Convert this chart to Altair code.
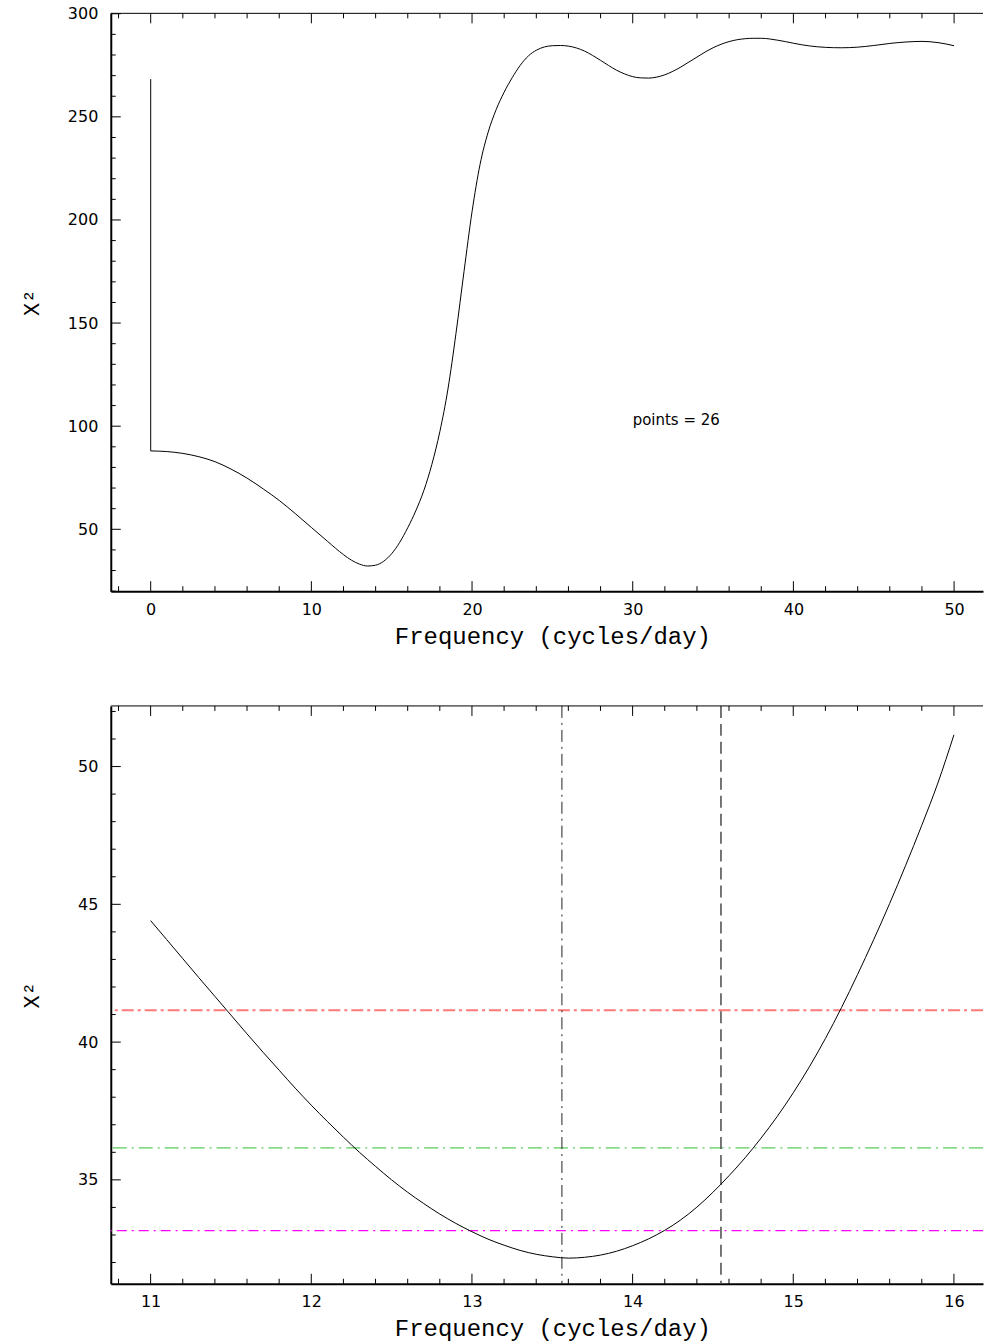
import altair as alt
import pandas as pd

# ---------------- data ----------------
# top panel: chi^2 versus trial frequency (full scan)
top_freq = [0, 1, 2, 3, 4, 5, 6, 7, 8, 9, 10, 11, 12, 12.5, 13, 13.5, 14, 14.5, 15,
            15.5, 16, 16.5, 17, 17.5, 18, 18.5, 19, 19.5, 20, 20.5, 21, 21.5, 22,
            22.5, 23, 23.5, 24, 24.5, 25, 25.5, 26, 26.5, 27, 27.5, 28, 28.5, 29,
            29.5, 30, 30.5, 31, 31.5, 32, 32.5, 33, 33.5, 34, 34.5, 35, 35.5, 36,
            36.5, 37, 37.5, 38, 38.5, 39, 39.5, 40, 41, 42, 43, 44, 45, 46, 47, 48,
            49, 50]
top_chi2 = [88.0, 87.7, 86.8, 85.2, 82.8, 79.2, 74.8, 69.6, 64.0, 57.6, 50.9, 44.2,
            37.7, 35.0, 33.1, 32.2, 32.6, 34.5, 38.2, 43.7, 50.8, 59.0, 68.8, 81.5,
            97.5, 118.0, 145.0, 175.0, 204.0, 227.0, 242.5, 253.5, 262.0, 269.0,
            275.0, 279.5, 282.3, 283.9, 284.5, 284.6, 284.3, 283.4, 281.9, 279.8,
            277.4, 274.9, 272.6, 270.8, 269.5, 268.9, 268.8, 269.3, 270.4, 272.1,
            274.2, 276.6, 279.0, 281.4, 283.5, 285.2, 286.5, 287.4, 287.9, 288.1,
            288.1, 287.8, 287.2, 286.5, 285.7, 284.4, 283.7, 283.5, 283.8, 284.6,
            285.6, 286.3, 286.6, 286.0, 284.5]
spike_freq = [0]
spike_top = [268.3]
spike_bottom = [88.0]
annot_text = ["points = 26"]
annot_freq = [30]
annot_chi2 = [103]

# bottom panel: zoom around the minimum
zoom_freq = [11.0, 11.1, 11.2, 11.3, 11.4, 11.5, 11.6, 11.7, 11.8, 11.9, 12.0, 12.1,
             12.2, 12.3, 12.4, 12.5, 12.6, 12.7, 12.8, 12.9, 13.0, 13.1, 13.2, 13.3,
             13.4, 13.5, 13.6, 13.7, 13.8, 13.9, 14.0, 14.1, 14.2, 14.3, 14.4, 14.5,
             14.6, 14.7, 14.8, 14.9, 15.0, 15.1, 15.2, 15.3, 15.4, 15.5, 15.6, 15.7,
             15.8, 15.9, 16.0]
zoom_chi2 = [44.41, 43.72, 43.03, 42.34, 41.66, 40.98, 40.30, 39.63, 38.98, 38.33,
             37.71, 37.12, 36.55, 36.00, 35.49, 35.00, 34.55, 34.14, 33.76, 33.42,
             33.12, 32.85, 32.63, 32.44, 32.30, 32.21, 32.16, 32.19, 32.27, 32.41,
             32.61, 32.86, 33.17, 33.55, 34.01, 34.55, 35.15, 35.80, 36.52, 37.30,
             38.16, 39.10, 40.13, 41.25, 42.45, 43.71, 45.03, 46.42, 47.87, 49.40,
             51.15]
level_chi2 = [41.16, 36.16, 33.16]          # chi2_min + 9, + 4, + 1
level_color = ["#ff7a7a", "#2fbf2f", "#ff00ff"]
level_dash = [[12, 4, 3, 4], [14, 5, 2, 5], [10, 5, 2, 5]]
level_width = [2.0, 1.0, 1.2]
mark_freq = [13.56, 14.55]
mark_color = ["#222222", "#555555"]
mark_dash = [[12, 5, 2, 5], [12, 6]]
mark_width = [1.0, 1.6]

# axis ticks / labels
top_x_major = [0, 10, 20, 30, 40, 50]
top_x_minor = [-2, 2, 4, 6, 8, 12, 14, 16, 18, 22, 24, 26, 28, 32, 34, 36, 38,
               42, 44, 46, 48]
top_y_major = [50, 100, 150, 200, 250, 300]
top_y_minor = [20, 30, 40, 60, 70, 80, 90, 110, 120, 130, 140, 160, 170, 180, 190,
               210, 220, 230, 240, 260, 270, 280, 290]
zoom_x_major = [11, 12, 13, 14, 15, 16]
zoom_x_minor = [10.8, 11.2, 11.4, 11.6, 11.8, 12.2, 12.4, 12.6, 12.8, 13.2, 13.4,
                13.6, 13.8, 14.2, 14.4, 14.6, 14.8, 15.2, 15.4, 15.6, 15.8]
zoom_y_major = [35, 40, 45, 50]
zoom_y_minor = [32, 33, 34, 36, 37, 38, 39, 41, 42, 43, 44, 46, 47, 48, 49, 51, 52]

top_xdom = [-2.484, 51.80]
top_ydom = [20, 300.2]
zoom_xdom = [10.752, 16.181]
zoom_ydom = [31.23, 52.2]

XTITLE = "Frequency (cycles/day)"
YTITLE = "X²"

W = 874
H = 579
MAJ = 10
MIN = 5
LABEL_FONT = "DejaVu Sans"


def make_axes(xvals, yvals):
    xa = alt.Axis(values=xvals, format="d", ticks=False, grid=False, domain=True,
                  domainColor="black", domainWidth=2, labelFlush=False,
                  labelFont=LABEL_FONT, labelFontSize=16, labelColor="black",
                  labelPadding=10, titleFont="Liberation Mono", titleFontSize=24,
                  titleFontWeight="normal", titleColor="black", titleX=442.5,
                  titleY=45, titleBaseline="middle", titleAlign="center")
    ya = alt.Axis(values=yvals, format="d", ticks=False, grid=False, domain=True,
                  domainColor="black", domainWidth=2,
                  labelFont=LABEL_FONT, labelFontSize=16, labelColor="black",
                  labelPadding=13, titleFont="Liberation Mono", titleFontSize=22,
                  titleFontWeight="normal", titleColor="black", titleX=-79,
                  titleY=H / 2, titleAngle=270, titleBaseline="middle",
                  titleAlign="center")
    return xa, ya


def panel(curve_df, xdom, ydom, xmaj, xmin, ymaj, ymin, extra):
    xs = alt.Scale(domain=xdom, nice=False, zero=False)
    ys = alt.Scale(domain=ydom, nice=False, zero=False)
    xa, ya = make_axes(xmaj, ymaj)

    def X():
        return alt.X("f:Q", scale=xs, axis=xa, title=XTITLE)

    def Y():
        return alt.Y("c:Q", scale=ys, axis=ya, title=YTITLE)

    layers = []
    for build in extra:
        layers.append(build(X, Y))

    curve = alt.Chart(curve_df).mark_line(color="black", strokeWidth=1,
                                          interpolate="monotone", clip=True).encode(
        x=X(), y=Y())
    layers.append(curve)

    for vals, length in ((xmaj, MAJ), (xmin, MIN)):
        d = pd.DataFrame({"f": vals})
        layers.append(alt.Chart(d).mark_rule(color="black", strokeWidth=1).encode(
            x=X(), y=alt.value(H), y2=alt.value(H - length)))
        layers.append(alt.Chart(d).mark_rule(color="black", strokeWidth=1).encode(
            x=X(), y=alt.value(0), y2=alt.value(length)))
    for vals, length in ((ymaj, MAJ), (ymin, MIN)):
        d = pd.DataFrame({"c": vals})
        layers.append(alt.Chart(d).mark_rule(color="black", strokeWidth=1).encode(
            y=Y(), x=alt.value(0), x2=alt.value(length)))
    # top frame line
    layers.append(alt.Chart(pd.DataFrame({"c": [ydom[1]]})).mark_rule(
        color="black", strokeWidth=1).encode(
        y=alt.value(0), x=alt.value(0), x2=alt.value(W)))

    return alt.layer(*layers).properties(width=W, height=H)


top_df = pd.DataFrame({"f": top_freq, "c": top_chi2})
zoom_df = pd.DataFrame({"f": zoom_freq, "c": zoom_chi2})


def spike(X, Y):
    d = pd.DataFrame({"f": spike_freq, "c": spike_top, "c2": spike_bottom})
    return alt.Chart(d).mark_rule(color="black", strokeWidth=1).encode(
        x=X(), y=Y(), y2="c2:Q")


def annot(X, Y):
    d = pd.DataFrame({"f": annot_freq, "c": annot_chi2, "t": annot_text})
    return alt.Chart(d).mark_text(align="left", baseline="middle",
                                  font=LABEL_FONT, fontSize=15,
                                  color="black").encode(x=X(), y=Y(), text="t:N")


def level_builder(i):
    def build(X, Y):
        d = pd.DataFrame({"c": [level_chi2[i]]})
        return alt.Chart(d).mark_rule(color=level_color[i], strokeWidth=level_width[i],
                                      strokeDash=level_dash[i]).encode(y=Y())
    return build


def mark_builder(i):
    def build(X, Y):
        d = pd.DataFrame({"f": [mark_freq[i]]})
        return alt.Chart(d).mark_rule(color=mark_color[i], strokeWidth=mark_width[i],
                                      strokeDash=mark_dash[i]).encode(x=X())
    return build


top = panel(top_df, top_xdom, top_ydom, top_x_major, top_x_minor,
            top_y_major, top_y_minor, [spike, annot])
bottom = panel(zoom_df, zoom_xdom, zoom_ydom, zoom_x_major, zoom_x_minor,
               zoom_y_major, zoom_y_minor,
               [level_builder(0), level_builder(1), level_builder(2),
                mark_builder(0), mark_builder(1)])

chart = alt.vconcat(top, bottom, spacing=55).properties(
    padding={"left": 20, "top": 3, "right": 0, "bottom": 0},
    background="white",
).configure_view(stroke="transparent")

chart.save("out.html", embed_options={"renderer": "svg", "actions": False})
